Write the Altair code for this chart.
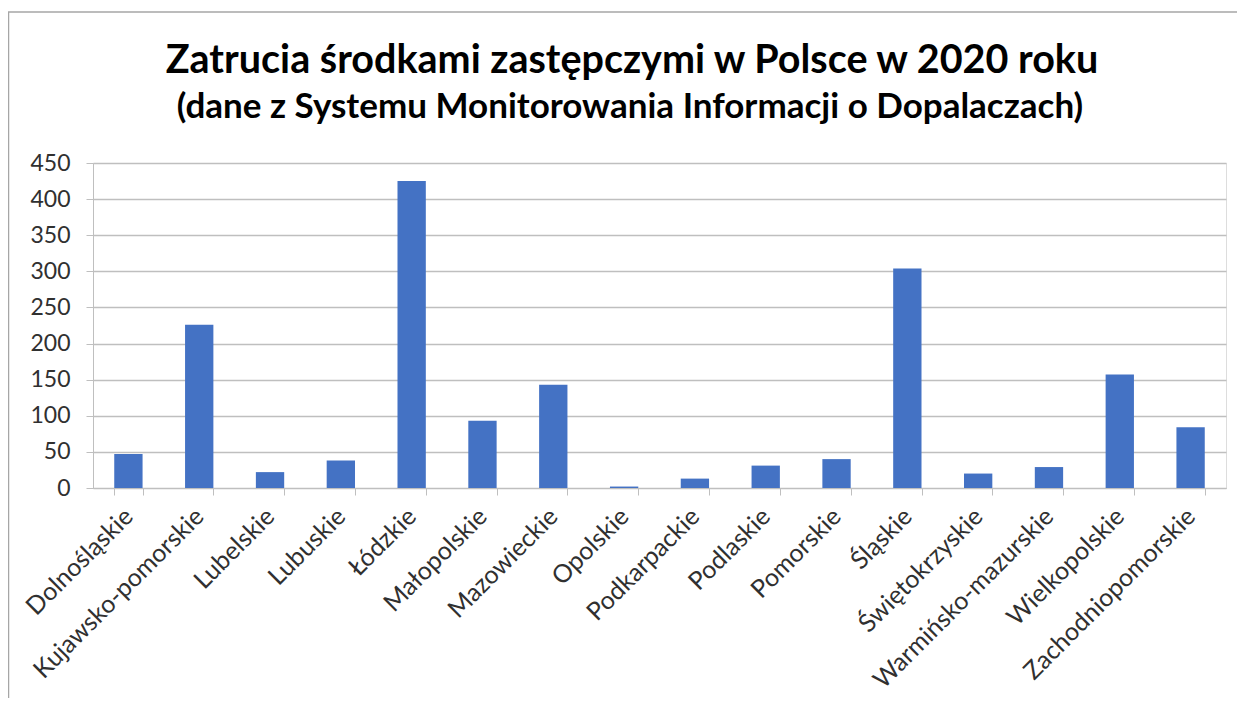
import altair as alt
import pandas as pd

regions = ["Dolnośląskie", "Kujawsko-pomorskie", "Lubelskie", "Lubuskie", "Łódzkie",
           "Małopolskie", "Mazowieckie", "Opolskie", "Podkarpackie", "Podlaskie",
           "Pomorskie", "Śląskie", "Świętokrzyskie", "Warmińsko-mazurskie",
           "Wielkopolskie", "Zachodniopomorskie"]
values = [47, 226, 22, 38, 425, 93, 143, 2, 13, 31, 40, 304, 20, 29, 157, 84]
y_ticks = [0, 50, 100, 150, 200, 250, 300, 350, 400, 450]

title_text = "Zatrucia środkami zastępczymi w Polsce w 2020 roku"
subtitle_text = "(dane z Systemu Monitorowania Informacji o Dopalaczach)"

df = pd.DataFrame({"region": regions, "value": values})

W, H = 1133, 325

bars = alt.Chart(df).mark_bar(color="#4472C4").encode(
    x=alt.X("region:N", sort=regions, title=None,
            scale=alt.Scale(paddingInner=0.6, paddingOuter=0.3),
            axis=alt.Axis(labelAngle=-45, labelFont="Lato", labelFontSize=25,
                          labelColor="#303030", labelAlign="right", labelBaseline="middle",
                          labelPadding=17, domainColor="#BFBFBF", tickColor="#BFBFBF",
                          tickBand="extent", tickSize=7, labelLimit=400, grid=False)),
    y=alt.Y("value:Q", title=None, scale=alt.Scale(domain=[0, 450], nice=False),
            axis=alt.Axis(values=y_ticks, labelFont="Lato", labelFontSize=23,
                          labelColor="#303030", labelPadding=16, domainColor="#BFBFBF",
                          tickColor="#BFBFBF", tickSize=7, gridColor="#BFBFBF",
                          gridWidth=1.3)),
)

frame_df = pd.DataFrame({"k": [0]})
top_border = alt.Chart(frame_df).mark_rule(color="#A6A6A6", strokeWidth=1.5).encode(
    x=alt.value(-85), x2=alt.value(W + 11), y=alt.value(-151))
left_border = alt.Chart(frame_df).mark_rule(color="#A6A6A6", strokeWidth=1.5).encode(
    x=alt.value(-84.5), y=alt.value(-151), y2=alt.value(H + 240))

title = alt.Chart(pd.DataFrame({"t": [title_text]})).mark_text(
    font="Lato", fontSize=39.5, fontWeight="bold", color="black",
    align="center", baseline="alphabetic").encode(
    text="t:N", x=alt.value(539), y=alt.value(-90))
subtitle = alt.Chart(pd.DataFrame({"t": [subtitle_text]})).mark_text(
    font="Lato", fontSize=35, fontWeight="bold", color="black",
    align="center", baseline="alphabetic").encode(
    text="t:N", x=alt.value(537), y=alt.value(-45))

chart = alt.layer(bars, top_border, left_border, title, subtitle).properties(
    width=W, height=H,
    autosize=alt.AutoSizeParams(type="none"),
    padding={"left": 85, "top": 155, "right": 11, "bottom": 210},
).configure_view(stroke=None).configure(background="white")

chart.save("out.html", embed_options={"renderer": "svg", "actions": False})
